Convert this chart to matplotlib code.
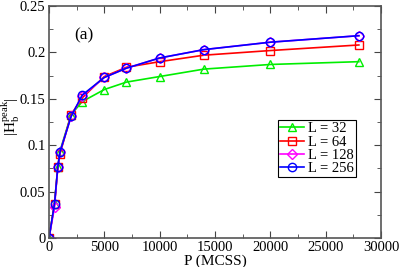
import matplotlib
matplotlib.use("Agg")
import matplotlib.pyplot as plt
from matplotlib.ticker import MultipleLocator

plt.rcParams['font.family'] = ['Liberation Serif', 'DejaVu Serif']
plt.rcParams['mathtext.fontset'] = 'custom'
plt.rcParams['mathtext.rm'] = 'Liberation Serif'
plt.rcParams['mathtext.it'] = 'Liberation Serif'

P = [0, 500, 800, 1000, 2000, 3000, 5000, 7000, 10000, 14000, 20000, 28000]
H32 = [0.0, 0.037, 0.077, 0.094, 0.133, 0.147, 0.160, 0.168, 0.174, 0.182, 0.187, 0.190]
H64 = [0.0, 0.037, 0.077, 0.091, 0.133, 0.151, 0.174, 0.184, 0.190, 0.197, 0.202, 0.208]
H128 = [0.0, 0.033, 0.077, 0.093, 0.131, 0.153, 0.173, 0.183, 0.194, 0.203, 0.211, 0.218]
H256 = [0.0, 0.037, 0.077, 0.093, 0.131, 0.154, 0.173, 0.183, 0.194, 0.203, 0.211, 0.218]
labels = ['L = 32', 'L = 64', 'L = 128', 'L = 256']

fig = plt.figure(figsize=(3.99, 2.67), dpi=100)
ax = fig.add_axes([49/399, 1-238/267, 332/399, 232/267])

series = [(H32, '#00ee00', '^'), (H64, '#ff0000', 's'), (H128, '#ff00ff', 'D'), (H256, '#0000ff', 'o')]
for (h, c, m), lab in zip(series, labels):
    ms = 5 if m == 'D' else 6
    ax.plot(P, h, color=c, marker=m, markersize=ms, markerfacecolor='none',
            markeredgecolor=c, markeredgewidth=1.0, linewidth=1.2, label=lab)

ax.set_xlim(0, 30000)
ax.set_ylim(0, 0.25)
ax.xaxis.set_major_locator(MultipleLocator(5000))
ax.xaxis.set_minor_locator(MultipleLocator(2500))
ax.yaxis.set_major_locator(MultipleLocator(0.05))
ax.yaxis.set_minor_locator(MultipleLocator(0.025))
ax.set_yticks([0, 0.05, 0.1, 0.15, 0.2, 0.25])
ax.set_yticklabels(['0', '0.05', '0.1', '0.15', '0.2', '0.25'])
ax.tick_params(which='both', direction='in', top=True, right=True, labelsize=10.5,
               color='#444444', pad=2.5)
ax.tick_params(which='major', length=5)
ax.tick_params(which='minor', length=3)
for s in ax.spines.values():
    s.set_color('#555555')
    s.set_linewidth(1.2)

ax.set_xlabel('P (MCSS)', fontsize=11, labelpad=0)
fig.text(11/399, 1-117/267, r'$|\mathrm{H}_\mathrm{b}^\mathrm{peak}|$', fontsize=11,
         rotation=90, ha='center', va='center')
ax.text(0.075, 0.855, '(a)', transform=ax.transAxes, fontsize=12.5)

leg = ax.legend(loc='lower right', bbox_to_anchor=(0.925, 0.262), fontsize=10.5, frameon=True,
                fancybox=False, edgecolor='black', framealpha=1, handlelength=1.6,
                handletextpad=0.3, borderpad=0.15, labelspacing=0.0, borderaxespad=0)
leg.get_frame().set_linewidth(0.8)

fig.savefig('out.png', dpi=100)
